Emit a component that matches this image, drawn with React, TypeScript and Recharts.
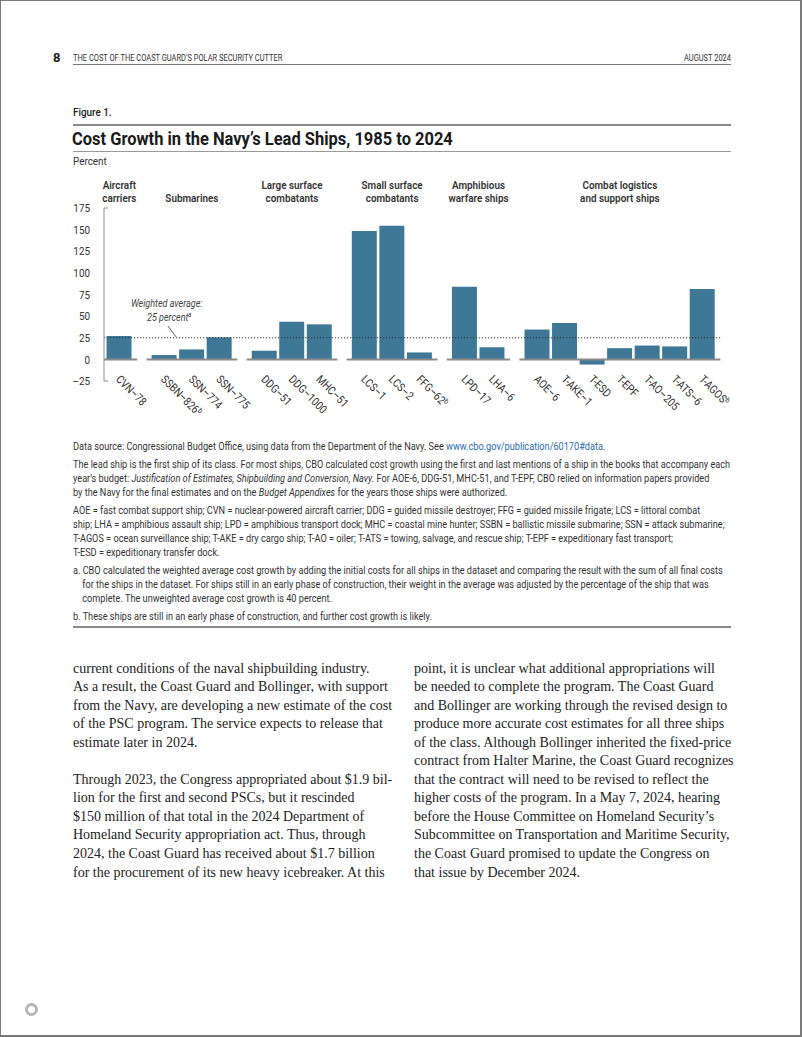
import React from 'react';
import { BarChart, Bar, XAxis, YAxis, ReferenceLine, ReferenceDot } from 'recharts';

// ---------- data ----------
const groupNames: string[][] = [
  ['Aircraft', 'carriers'],
  ['Submarines'],
  ['Large surface', 'combatants'],
  ['Small surface', 'combatants'],
  ['Amphibious', 'warfare ships'],
  ['Combat logistics', 'and support ships'],
];
const shipNames = [
  'CVN–78', 'SSBN–826', 'SSN–774', 'SSN–775', 'DDG–51', 'DDG–1000', 'MHC–51',
  'LCS–1', 'LCS–2', 'FFG–62', 'LPD–17', 'LHA–6', 'AOE–6', 'T-AKE–1', 'T-ESD',
  'T-EPF', 'T-AO–205', 'T-ATS–6', 'T-AGOS',
];
const shipGroup = [0, 1, 1, 1, 2, 2, 2, 3, 3, 3, 4, 4, 5, 5, 5, 5, 5, 5, 5];
const costGrowth = [27, 5, 11.5, 25.5, 10, 43.5, 40.5, 148.5, 154.5, 8, 84, 14, 34.5, 42, -6, 13, 16, 15, 81.5];
const earlyPhaseShips = ['SSBN–826', 'FFG–62', 'T-AGOS'];
const yTicks = [-25, 0, 25, 50, 75, 100, 125, 150, 175];
const weightedAverage = 25;

// ---------- layout constants ----------
const GROUP_GAP = 0.636;
const BAR_COLOR = '#3e7896';
const SANS = "Roboto, 'Liberation Sans', sans-serif";
const SERIF = "'Liberation Serif', 'DejaVu Serif', serif";
const SX = 0.86; // horizontal condensing of sans text

const positions = shipNames.map((_, i) => i + shipGroup[i] * GROUP_GAP);
const data = shipNames.map((name, i) => ({ name, pos: positions[i], value: costGrowth[i] }));
const groupRanges = groupNames.map((_, g) => {
  const ps = positions.filter((_, i) => shipGroup[i] === g);
  return [Math.min(...ps), Math.max(...ps)];
});
const groupCenters = groupRanges.map(([a, b]) => (a + b) / 2);
const X_MIN = positions[0] - 0.556;
const X_MAX = positions[positions.length - 1] + 0.6;

const YTick = (props: any) => {
  const { x, y, payload } = props;
  const v = payload.value;
  const label = v < 0 ? '–' + Math.abs(v) : String(v);
  const isEnd = v === yTicks[0] || v === yTicks[yTicks.length - 1];
  return (
    <g>
      <g transform={`translate(${x},${y}) scale(${SX},1)`}>
        <text x={0} y={0} dy="0.36em" textAnchor="end" fontSize={11.5} fill="#333" fontFamily={SANS}>{label}</text>
      </g>
      {isEnd && <line x1={x + 14} x2={x + 18} y1={y} y2={y} stroke="#8c8c8c" strokeWidth={1} />}
    </g>
  );
};

const XTick = (props: any) => {
  const { x, y, index } = props;
  const name = shipNames[index];
  const early = earlyPhaseShips.includes(name);
  return (
    <g transform={`translate(${x - 4},${y - 1}) rotate(45) scale(${SX},1)`}>
      <text x={0} y={0} fontSize={11.5} fill="#333" fontFamily={SANS}>
        {name}
        {early && <tspan fontSize={7.5} dy={-4}>b</tspan>}
      </text>
    </g>
  );
};

const GroupTick = (props: any) => {
  const { x, y, index } = props;
  const lines = groupNames[index];
  return (
    <g transform={`translate(${x},${y}) scale(${SX},1)`}>
      <text x={0} y={0} textAnchor="middle" fontSize={11.5} fontWeight={600} fill="#333" fontFamily={SANS}>
        {lines.map((l, i) => (
          <tspan key={i} x={0} y={-6 - (lines.length - 1 - i) * 13.2}>{l}</tspan>
        ))}
      </text>
    </g>
  );
};

const AvgLabel = (props: any) => {
  const { viewBox } = props;
  return (
    <g transform={`translate(${viewBox.x},${viewBox.y}) scale(${SX},1)`}>
      <text x={0} y={0} textAnchor="middle" fontSize={10.5} fontStyle="italic" fill="#444" fontFamily={SANS}>
        <tspan x={0} y={0}>Weighted average:</tspan>
        <tspan x={3} y={14}>25 percent</tspan>
        <tspan fontSize={7} dy={-4}>a</tspan>
      </text>
    </g>
  );
};

const abs = (left: number, top: number, extra: React.CSSProperties = {}): React.CSSProperties => ({
  position: 'absolute', left, top, whiteSpace: 'nowrap', ...extra,
});
const condensed = (k: number, origin = 'left top'): React.CSSProperties => ({
  transform: `scaleX(${k})`, transformOrigin: origin,
});

const noteLine: React.CSSProperties = { whiteSpace: 'nowrap', height: 13.8 };

export default function App() {
  const notesStyle: React.CSSProperties = {
    position: 'absolute', left: 72, top: 439, width: 780, fontFamily: SANS, fontSize: 10.8,
    lineHeight: '13.8px', color: '#333', ...condensed(0.848),
  };
  const para: React.CSSProperties = { marginBottom: 4.6 };
  const bodyStyle = (left: number): React.CSSProperties => ({
    position: 'absolute', left, top: 658.5, fontFamily: SERIF, fontSize: 14, lineHeight: '18.55px', color: '#222',
  });
  const bl: React.CSSProperties = { whiteSpace: 'nowrap', height: 18.55 };

  return (
    <div style={{
      position: 'absolute', left: 0, top: 0, width: 802, height: 1037, boxSizing: 'border-box',
      borderTop: '1px solid #7a7a7a', borderLeft: '1px solid #7a7a7a', borderRight: '2px solid #7a7a7a',
      borderBottom: '2px solid #7a7a7a', background: '#fff', overflow: 'hidden',
    }}>
      {/* header */}
      <div style={abs(52, 49, { fontFamily: SANS, fontWeight: 700, fontSize: 13, color: '#222' })}>8</div>
      <div style={abs(72, 52, { fontFamily: SANS, fontSize: 9, color: '#333', ...condensed(0.83) })}>THE COST OF THE COAST GUARD’S POLAR SECURITY CUTTER</div>
      <div style={abs(630, 52, { fontFamily: SANS, fontSize: 9, color: '#333', width: 100, textAlign: 'right', ...condensed(0.83, 'right top') })}>AUGUST 2024</div>
      <div style={abs(72, 63, { width: 658, height: 1, background: '#777' })} />

      {/* figure heading */}
      <div style={abs(72, 104, { fontFamily: SANS, fontSize: 11.5, fontWeight: 500, color: '#222', ...condensed(0.86) })}>Figure 1.</div>
      <div style={abs(72, 123, { width: 658, height: 2, background: '#8a8a8a' })} />
      <div style={abs(71, 127, { fontFamily: SANS, fontSize: 18, fontWeight: 700, color: '#1a1a1a', ...condensed(0.915) })}>Cost Growth in the Navy’s Lead Ships, 1985 to 2024</div>
      <div style={abs(72, 150, { width: 658, height: 1, background: '#9a9a9a' })} />
      <div style={abs(72, 153, { fontFamily: SANS, fontSize: 11.5, color: '#333', ...condensed(0.86) })}>Percent</div>

      {/* chart */}
      <div style={{ position: 'absolute', left: 0, top: 170 }}>
        <BarChart width={802} height={270} data={data} margin={{ top: 0, right: 84, bottom: 0, left: 73 }}>
          <XAxis
            xAxisId="t" orientation="top" type="number" dataKey="pos" domain={[X_MIN, X_MAX]} allowDataOverflow
            ticks={groupCenters} interval={0} height={37} axisLine={false} tickLine={false} tickSize={0} tickMargin={0}
            tick={<GroupTick />}
          />
          <XAxis
            xAxisId="b" type="number" dataKey="pos" domain={[X_MIN, X_MAX]} allowDataOverflow
            ticks={positions} interval={0} height={60} axisLine={false} tickLine={false} tickSize={0} tickMargin={0}
            tick={<XTick />}
          />
          <YAxis
            type="number" domain={[yTicks[0], yTicks[yTicks.length - 1]]} ticks={yTicks} interval={0} width={30}
            axisLine={{ stroke: '#8c8c8c', strokeWidth: 1 }} tickLine={false} tickSize={6} tickMargin={8}
            tick={<YTick />}
          />
          <ReferenceLine
            xAxisId="b" ifOverflow="visible"
            segment={[{ x: X_MIN, y: weightedAverage }, { x: groupRanges[5][1] + 0.65, y: weightedAverage }]}
            stroke="#333" strokeWidth={1} strokeDasharray="1.2 1.8"
          />
          <Bar xAxisId="b" dataKey="value" fill={BAR_COLOR} barSize={25} isAnimationActive={false} />
          {groupRanges.map(([a, b], g) => (
            <ReferenceLine
              key={g} xAxisId="b" ifOverflow="visible"
              segment={[{ x: g === 0 ? X_MIN : a - 0.65, y: 0 }, { x: b + 0.65, y: 0 }]}
              stroke="#8a8a8a" strokeWidth={2}
            />
          ))}
          <ReferenceLine
            xAxisId="b" ifOverflow="visible"
            segment={[{ x: 1.77, y: 38.5 }, { x: 2.06, y: 26 }]}
            stroke="#333" strokeWidth={0.8}
          />
          <ReferenceDot xAxisId="b" x={1.72} y={61} r={0} ifOverflow="visible" fill="none" stroke="none" label={<AvgLabel />} />
        </BarChart>
      </div>

      {/* notes */}
      <div style={notesStyle}>
        <div style={{ ...noteLine, ...para }}>
          Data source: Congressional Budget Office, using data from the Department of the Navy. See <span style={{ color: '#2a6cb5' }}>www.cbo.gov/publication/60170#data</span>.
        </div>
        <div style={para}>
          <div style={noteLine}>The lead ship is the first ship of its class. For most ships, CBO calculated cost growth using the first and last mentions of a ship in the books that accompany each</div>
          <div style={noteLine}>year’s budget: <i>Justification of Estimates, Shipbuilding and Conversion, Navy.</i> For AOE-6, DDG-51, MHC-51, and T-EPF, CBO relied on information papers provided</div>
          <div style={noteLine}>by the Navy for the final estimates and on the <i>Budget Appendixes</i> for the years those ships were authorized.</div>
        </div>
        <div style={para}>
          <div style={noteLine}>AOE = fast combat support ship; CVN = nuclear-powered aircraft carrier; DDG = guided missile destroyer; FFG = guided missile frigate; LCS = littoral combat</div>
          <div style={noteLine}>ship; LHA = amphibious assault ship; LPD = amphibious transport dock; MHC = coastal mine hunter; SSBN = ballistic missile submarine; SSN = attack submarine;</div>
          <div style={noteLine}>T-AGOS = ocean surveillance ship; T-AKE = dry cargo ship; T-AO = oiler; T-ATS = towing, salvage, and rescue ship; T-EPF = expeditionary fast transport;</div>
          <div style={noteLine}>T-ESD = expeditionary transfer dock.</div>
        </div>
        <div style={para}>
          <div style={noteLine}>a. CBO calculated the weighted average cost growth by adding the initial costs for all ships in the dataset and comparing the result with the sum of all final costs</div>
          <div style={{ ...noteLine, paddingLeft: 11 }}>for the ships in the dataset. For ships still in an early phase of construction, their weight in the average was adjusted by the percentage of the ship that was</div>
          <div style={{ ...noteLine, paddingLeft: 11 }}>complete. The unweighted average cost growth is 40 percent.</div>
        </div>
        <div style={noteLine}>b. These ships are still in an early phase of construction, and further cost growth is likely.</div>
      </div>
      <div style={abs(72, 625, { width: 658, height: 2, background: '#8a8a8a' })} />

      {/* body text */}
      <div style={bodyStyle(72)}>
        <div style={bl}>current conditions of the naval shipbuilding industry.</div>
        <div style={bl}>As a result, the Coast Guard and Bollinger, with support</div>
        <div style={bl}>from the Navy, are developing a new estimate of the cost</div>
        <div style={bl}>of the PSC program. The service expects to release that</div>
        <div style={bl}>estimate later in 2024.</div>
        <div style={bl}></div>
        <div style={bl}>Through 2023, the Congress appropriated about $1.9 bil-</div>
        <div style={bl}>lion for the first and second PSCs, but it rescinded</div>
        <div style={bl}>$150 million of that total in the 2024 Department of</div>
        <div style={bl}>Homeland Security appropriation act. Thus, through</div>
        <div style={bl}>2024, the Coast Guard has received about $1.7 billion</div>
        <div style={bl}>for the procurement of its new heavy icebreaker. At this</div>
      </div>
      <div style={bodyStyle(413)}>
        <div style={bl}>point, it is unclear what additional appropriations will</div>
        <div style={bl}>be needed to complete the program. The Coast Guard</div>
        <div style={bl}>and Bollinger are working through the revised design to</div>
        <div style={bl}>produce more accurate cost estimates for all three ships</div>
        <div style={bl}>of the class. Although Bollinger inherited the fixed-price</div>
        <div style={bl}>contract from Halter Marine, the Coast Guard recognizes</div>
        <div style={bl}>that the contract will need to be revised to reflect the</div>
        <div style={bl}>higher costs of the program. In a May 7, 2024, hearing</div>
        <div style={bl}>before the House Committee on Homeland Security’s</div>
        <div style={bl}>Subcommittee on Transportation and Maritime Security,</div>
        <div style={bl}>the Coast Guard promised to update the Congress on</div>
        <div style={bl}>that issue by December 2024.</div>
      </div>

      {/* logo mark */}
      <div style={abs(24, 1002, { width: 7, height: 7, borderRadius: '50%', border: '3px solid #b5b5b5' })} />
    </div>
  );
}
